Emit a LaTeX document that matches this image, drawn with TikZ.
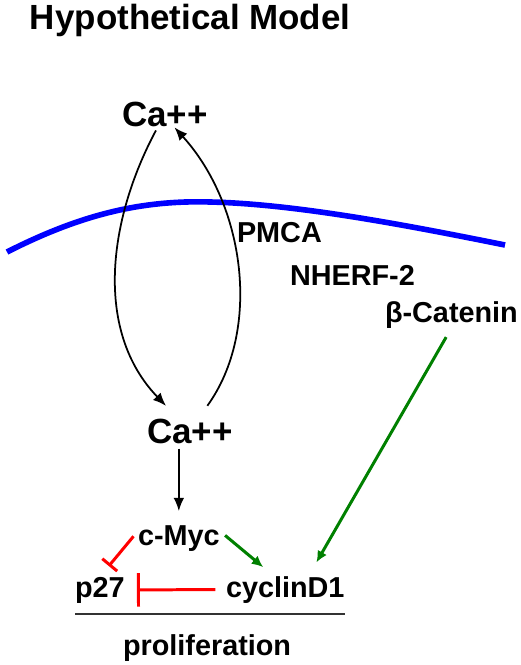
\documentclass[tikz,border=0pt]{standalone}
\usepackage{fontspec}
\setmainfont{Liberation Sans}
\usepackage{tikz}
\usetikzlibrary{arrows.meta}

\newcommand{\bigtxt}{\fontsize{19.9}{22}\selectfont\bfseries}
\newcommand{\smalltxt}{\fontsize{16.4}{19}\selectfont\bfseries}

\begin{document}
\begin{tikzpicture}[x=0.02cm, y=-0.02cm,
    lbl/.style={anchor=base west, inner sep=0pt, outer sep=0pt},
    bigl/.style={lbl, font=\bigtxt},
    smalll/.style={lbl, font=\smalltxt},
    act/.style={-{Latex[length=7.5pt,width=6pt]}, line width=1pt},
    grn/.style={-{Latex[length=6.5pt,width=6pt]}, line width=1.7pt, green!50!black},
    inhibit/.style={line width=1.7pt, red}]
    \useasboundingbox (0,0) rectangle (520,665);

    % Title
    \node[bigl] (title) at (30,30) {Hypothetical Model};

    % Draw membrane
    \draw[blue, line width=3.2pt] (7,252) .. controls (80,215) and (140,200) .. (210,202)
        .. controls (300,204) and (420,228) .. (505,245);

    % Labels
    \node[bigl] (topca) at (122,127) {Ca++};
    \node[smalll] (pmca) at (237,243) {PMCA};
    \node[smalll] (nherf) at (290,285) {NHERF-2};
    \node[smalll] (beta) at (385,322) {β-Catenin};
    \node[bigl] (lowca) at (147,443) {Ca++};
    \node[smalll] (myc) at (138,545) {c-Myc};
    \node[smalll] (p27) at (75,597) {p27};
    \node[smalll] (cyc) at (226,597) {cyclinD1};
    \node[smalll] (prolif) at (123,655) {proliferation};

    % Calcium flux
    \draw[act, shorten <=2pt, shorten >=10pt] (topca.240) .. controls (108,220) and (94,331) .. (lowca.133);
    \draw[act, shorten <=9pt] (lowca.56) .. controls (262,330) and (245,205) .. (topca.308);
    \draw[act, shorten <=3pt, shorten >=8pt] (lowca.south -| myc.north) -- (myc.north);

    % Signalling
    \draw[inhibit, -{Bar[width=11pt]}, shorten <=4pt, shorten >=8pt] (myc.170) -- (p27.north);
    \draw[inhibit, -{Bar[width=19pt]}, shorten <=6pt, shorten >=7pt] (cyc.west) -- (p27.east);
    \draw[grn, shorten <=4pt, shorten >=8pt] (myc.10) -- (cyc.130);
    \draw[grn, shorten <=6pt, shorten >=9pt] (beta.south) -- (cyc.30);

    % Proliferation line
    \draw[line width=0.9pt, black!80] (p27.south west |- 0,614) -- (cyc.south east |- 0,614);
\end{tikzpicture}
\end{document}
